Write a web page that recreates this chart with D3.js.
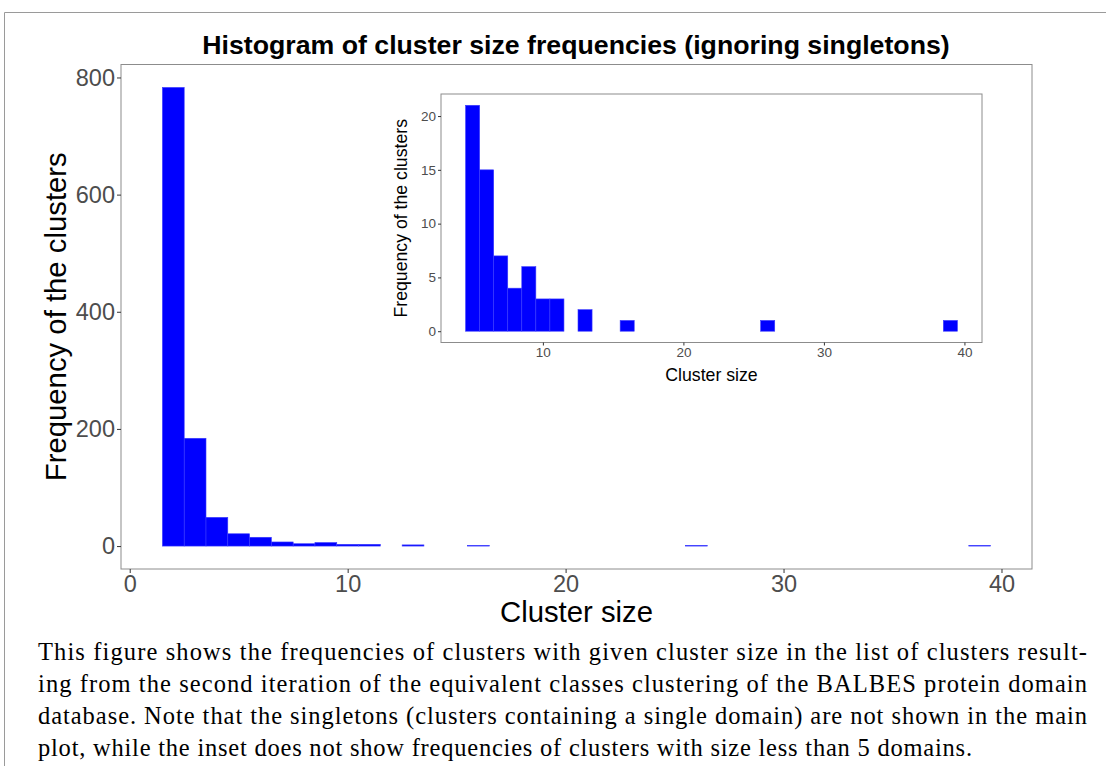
<!DOCTYPE html>
<html>
<head>
<meta charset="utf-8">
<script src="https://cdn.jsdelivr.net/npm/d3@7"></script>
<style>
  html, body { margin: 0; padding: 0; background: #fff; }
  svg { display: block; }
</style>
</head>
<body>
<svg id="fig" width="1106" height="766"></svg>
<script>
// Cluster sizes (bin centres, bin width 1) and their frequencies, singletons excluded
const mainSizes = [2, 3, 4, 5, 6, 7, 8, 9, 10, 11, 13, 16, 26, 39];
const mainFreqs = [783, 184, 49, 21, 15, 7, 4, 6, 3, 3, 2, 1, 1, 1];

// Inset: only clusters with at least 5 domains
const insetSizes = [5, 6, 7, 8, 9, 10, 11, 13, 16, 26, 39];
const insetFreqs = [21, 15, 7, 4, 6, 3, 3, 2, 1, 1, 1];

const mainXTicks = [0, 10, 20, 30, 40];
const mainYTicks = [0, 200, 400, 600, 800];
const insetXTicks = [10, 20, 30, 40];
const insetYTicks = [0, 5, 10, 15, 20];

const captionLines = [
  "This figure shows the frequencies of clusters with given cluster size in the list of clusters result-",
  "ing from the second iteration of the equivalent classes clustering of the BALBES protein domain",
  "database. Note that the singletons (clusters containing a single domain) are not shown in the main",
  "plot, while the inset does not show frequencies of clusters with size less than 5 domains."
];

const svg = d3.select("#fig");
const sans = "'Liberation Sans', Arial, Helvetica, sans-serif";
const serif = "'Liberation Serif', 'DejaVu Serif', serif";
const BAR = "#0000ff";
const BAR_EDGE = "#3a3aff";
const FRAME = "#8c8c8c";
const TICKTXT = "#4d4d4d";

// page frame lines
svg.append("line").attr("x1", 4.5).attr("x2", 1106).attr("y1", 12.5).attr("y2", 12.5)
  .attr("stroke", "#9a9a9a").attr("stroke-width", 1);
svg.append("line").attr("x1", 4.5).attr("x2", 4.5).attr("y1", 12.5).attr("y2", 766)
  .attr("stroke", "#9a9a9a").attr("stroke-width", 1);

// a ggplot-like histogram panel
function panel(opts) {
  const { sizes, freqs, xRange, yRange, xDomain, yDomain, xTicks, yTicks,
          tickSize, tickLen, xTitle, yTitle, titleSize, xTitleY, yTitleX } = opts;
  const x = d3.scaleLinear().domain(xDomain).range(xRange);
  const y = d3.scaleLinear().domain(yDomain).range(yRange);
  const g = svg.append("g");

  g.append("rect")
    .attr("x", xRange[0]).attr("y", yRange[1])
    .attr("width", xRange[1] - xRange[0]).attr("height", yRange[0] - yRange[1])
    .attr("fill", "#fff");

  g.selectAll("rect.bar").data(sizes.map((s, i) => ({ s, f: freqs[i] })))
    .join("rect").attr("class", "bar")
    .attr("x", d => x(d.s - 0.5))
    .attr("width", d => x(d.s + 0.5) - x(d.s - 0.5))
    .attr("y", d => y(d.f))
    .attr("height", d => y(0) - y(d.f))
    .attr("fill", BAR)
    .attr("stroke", BAR_EDGE).attr("stroke-width", 0.6);

  g.append("rect")
    .attr("x", xRange[0]).attr("y", yRange[1])
    .attr("width", xRange[1] - xRange[0]).attr("height", yRange[0] - yRange[1])
    .attr("fill", "none").attr("stroke", FRAME).attr("stroke-width", 1);

  const xAxis = d3.axisBottom(x).tickValues(xTicks).tickSize(tickLen).tickPadding(2)
    .tickFormat(d3.format("d"));
  const xg = g.append("g").attr("transform", `translate(0,${yRange[0]})`).call(xAxis);
  xg.select(".domain").remove();
  xg.selectAll(".tick line").attr("stroke", "#333");
  xg.selectAll(".tick text").attr("fill", TICKTXT).attr("font-family", sans)
    .attr("font-size", tickSize);

  const yAxis = d3.axisLeft(y).tickValues(yTicks).tickSize(tickLen).tickPadding(2)
    .tickFormat(d3.format("d"));
  const yg = g.append("g").attr("transform", `translate(${xRange[0]},0)`).call(yAxis);
  yg.select(".domain").remove();
  yg.selectAll(".tick line").attr("stroke", "#333");
  yg.selectAll(".tick text").attr("fill", TICKTXT).attr("font-family", sans)
    .attr("font-size", tickSize);

  g.append("text")
    .attr("x", (xRange[0] + xRange[1]) / 2).attr("y", xTitleY)
    .attr("text-anchor", "middle").attr("font-family", sans)
    .attr("font-size", titleSize).attr("fill", "#000").text(xTitle);

  g.append("text")
    .attr("transform", `translate(${yTitleX},${(yRange[0] + yRange[1]) / 2}) rotate(-90)`)
    .attr("text-anchor", "middle").attr("font-family", sans)
    .attr("font-size", titleSize).attr("fill", "#000").text(yTitle);
  return { x, y };
}

// main histogram
const mainMax = d3.max(mainFreqs);
panel({
  sizes: mainSizes, freqs: mainFreqs,
  xRange: [121, 1032], yRange: [569, 64.5],
  xDomain: [1.5 - 0.05 * 38, 39.5 + 0.05 * 38],
  yDomain: [-0.05 * mainMax, mainMax * 1.05],
  xTicks: mainXTicks, yTicks: mainYTicks,
  tickSize: 23.5, tickLen: 4,
  xTitle: "Cluster size", yTitle: "Frequency of the clusters",
  titleSize: 29.3, xTitleY: 622, yTitleX: 66
});

// inset histogram
const insetMax = d3.max(insetFreqs);
panel({
  sizes: insetSizes, freqs: insetFreqs,
  xRange: [441, 982], yRange: [342.5, 94],
  xDomain: [4.5 - 0.05 * 35, 39.5 + 0.05 * 35],
  yDomain: [-0.05 * insetMax, insetMax * 1.05],
  xTicks: insetXTicks, yTicks: insetYTicks,
  tickSize: 13.5, tickLen: 3,
  xTitle: "Cluster size", yTitle: "Frequency of the clusters",
  titleSize: 17.7, xTitleY: 381, yTitleX: 407
});

// title
svg.append("text")
  .attr("x", 576).attr("y", 54)
  .attr("text-anchor", "middle").attr("font-family", sans)
  .attr("font-weight", "bold").attr("font-size", 26.7).attr("fill", "#000")
  .text("Histogram of cluster size frequencies (ignoring singletons)");

// caption, justified except for the last line
const capBase = [660, 692, 724, 756];
const capWidth = [1049, 1049, 1049, 934];
captionLines.forEach((line, i) => {
  svg.append("text")
    .attr("x", 38).attr("y", capBase[i])
    .attr("font-family", serif).attr("font-size", 24.5).attr("fill", "#000")
    .attr("textLength", capWidth[i]).attr("lengthAdjust", "spacing")
    .text(line);
});
</script>
</body>
</html>
